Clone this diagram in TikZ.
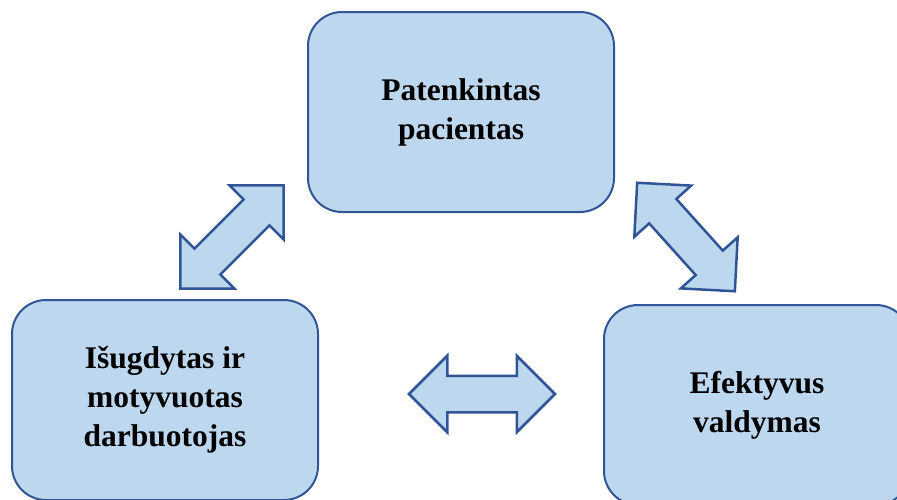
\documentclass[tikz,border=0pt]{standalone}
\usepackage{fontspec}
\setmainfont{Liberation Serif}
\usepackage{tikz}
\usetikzlibrary{shapes.arrows}
\definecolor{boxfill}{HTML}{BDD7EE}
\definecolor{boxline}{HTML}{2F5597}

\begin{document}
\begin{tikzpicture}[
  x=1pt, y=-1pt,
  font=\fontsize{31.5}{39}\selectfont\bfseries,
  box/.style     = {rounded corners=34pt, draw=boxline, fill=boxfill, line width=2pt,
                    align=center, minimum width=306pt, minimum height=200pt, inner sep=0pt},
  twoway/.style  = {double arrow, draw=boxline, fill=boxfill, line width=2.5pt,
                    double arrow head extend=20pt, double arrow tip angle=90,
                    inner sep=17pt, minimum height=146pt},
]
\useasboundingbox (0,0) rectangle (897,499);

%% ---------------------------------------------------------------- boxes
\node[box] (patient) at (461,112) {Patenkintas\\pacientas};
\node[box] (staff)   at (165,400) {Išugdytas ir\\motyvuotas\\darbuotojas};
\node[box] (manage)  at (757,405) {Efektyvus\\valdymas};

%% ---------------------------------------------------------------- arrows
\node[twoway, rotate=45]  (staffpatient)  at (232,237) {};
\node[twoway, rotate=-48] (patientmanage) at (686,237) {};
\node[twoway]             (staffmanage)   at (482,394) {};
\end{tikzpicture}
\end{document}
